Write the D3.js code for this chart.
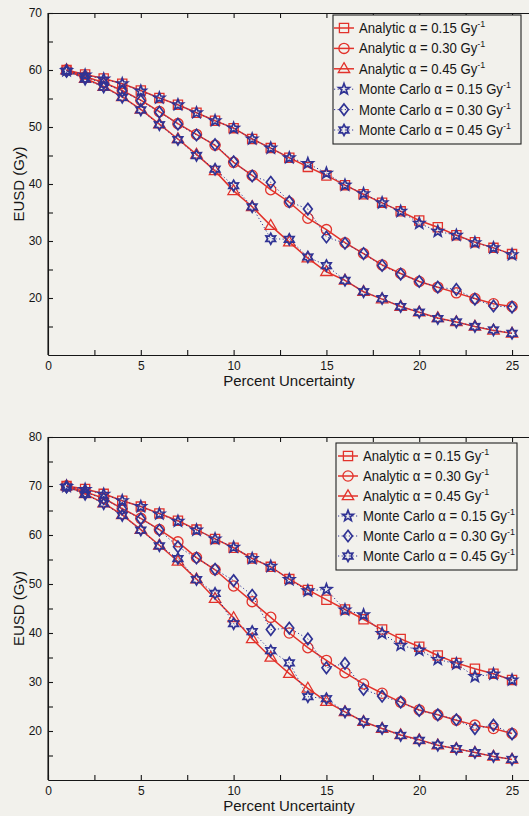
<!DOCTYPE html>
<html lang="en">
<head>
<meta charset="UTF-8">
<title>EUSD vs Percent Uncertainty</title>
<script src="https://d3js.org/d3.v7.min.js"></script>
<style type="text/css">
body{margin:0;background:#f2f1ec;}
svg{display:block;font-family:"Liberation Sans",Arial,sans-serif;}
.axis path,.axis line{fill:none;stroke:#161616;stroke-width:1.1px;}
.axis text{font-size:12px;fill:#161616;}
.axlabel{font-size:15px;fill:#161616;}
.legtext{font-size:14px;fill:#161616;}
</style>
</head>
<body>
<div id="chart"></div>
<script>
// percent uncertainty (x)
var pct = [1,2,3,4,5,6,7,8,9,10,11,12,13,14,15,16,17,18,19,20,21,22,23,24,25];
var xTicks = [0,2.5,5,7.5,10,12.5,15,17.5,20,22.5,25];
var xLabels = [0,5,10,15,20,25];

// upper panel
var topYTicks = [15,20,25,30,35,40,45,50,55,60,65,70];
var topYLabels = [20,30,40,50,60,70];
var topAnalytic015 = [60.0,59.2,58.5,57.6,56.4,55.1,53.9,52.5,51.1,49.8,47.9,46.3,44.6,43.0,41.5,39.8,38.2,36.7,35.2,33.6,32.4,31.0,29.8,28.8,27.7];
var topAnalytic030 = [60.0,58.8,57.8,56.4,54.7,52.7,50.6,48.7,46.8,43.8,41.5,39.0,36.8,34.0,32.0,29.7,27.8,25.8,24.3,22.9,21.9,20.9,19.9,19.0,18.5];
var topAnalytic045 = [60.0,58.5,57.1,55.3,53.1,50.5,47.9,45.2,42.3,38.8,36.0,32.7,29.8,27.0,24.6,23.1,21.1,19.8,18.5,17.5,16.5,15.8,15.0,14.3,13.8];
var topMC015 = [59.9,59.1,58.4,57.6,56.3,55.1,53.9,52.5,51.1,49.8,47.9,46.3,44.6,43.6,41.9,39.8,38.3,36.7,35.2,33.1,31.7,31.0,29.7,28.8,27.6];
var topMC030 = [59.8,58.7,57.7,56.3,54.6,52.6,50.5,48.6,46.9,43.9,41.4,40.3,36.9,35.6,30.7,29.6,27.8,25.7,24.2,22.9,21.9,21.5,19.8,18.6,18.4];
var topMC045 = [59.8,58.4,57.0,55.2,53.0,50.4,47.8,45.0,42.6,39.7,36.0,30.4,30.3,27.2,25.7,23.1,21.1,19.9,18.5,17.5,16.4,15.8,15.0,14.4,13.8];

// lower panel
var botYTicks = [15,20,25,30,35,40,45,50,55,60,65,70,75,80];
var botYLabels = [20,30,40,50,60,70,80];
var botAnalytic015 = [70.0,69.4,68.4,67.0,65.8,64.4,62.9,61.1,59.2,57.4,55.2,53.5,51.0,48.8,46.8,44.8,42.8,40.7,38.8,37.2,35.4,33.9,32.7,31.7,30.4];
var botAnalytic030 = [70.0,68.8,67.5,65.4,63.4,61.1,58.6,55.4,52.9,49.6,46.4,43.2,40.0,37.0,34.4,31.9,29.6,27.7,25.9,24.3,23.3,22.2,21.2,20.5,19.5];
var botAnalytic045 = [70.0,68.4,66.5,64.1,61.1,57.9,54.6,51.0,47.0,43.1,38.8,35.0,31.7,28.7,26.0,23.9,21.9,20.5,19.2,18.2,17.1,16.4,15.6,14.8,14.2];
var botMC015 = [69.9,69.3,68.3,67.0,65.8,64.3,62.8,61.0,59.2,57.5,55.2,53.6,50.9,48.6,48.9,44.7,43.7,39.9,37.5,36.5,34.6,33.7,31.1,31.6,30.4];
var botMC030 = [69.8,68.7,67.4,65.3,63.3,61.0,57.6,55.3,53.0,50.7,47.7,40.7,41.0,38.8,32.9,33.8,28.5,27.1,25.9,24.2,23.3,22.3,20.5,21.2,19.4];
var botMC045 = [69.8,68.3,66.4,64.0,61.0,57.8,55.2,50.9,48.1,41.9,40.3,36.4,33.9,27.0,26.6,23.9,21.9,20.5,19.1,18.1,17.1,16.4,15.6,14.8,14.2];

var topLegend = ["Analytic \u03b1 = 0.15 Gy","Analytic \u03b1 = 0.30 Gy","Analytic \u03b1 = 0.45 Gy",
                 "Monte Carlo \u03b1 = 0.15 Gy","Monte Carlo \u03b1 = 0.30 Gy","Monte Carlo \u03b1 = 0.45  Gy"];
var botLegend = ["Analytic \u03b1 = 0.15 Gy","Analytic \u03b1 = 0.30 Gy","Analytic \u03b1 = 0.45 Gy",
                 "Monte Carlo \u03b1 = 0.15 Gy","Monte Carlo \u03b1 = 0.30 Gy","Monte Carlo \u03b1 = 0.45 Gy"];

var red = "#e2322b", blue = "#303394";
var styles = [
    {marker:"square",    color:red,  dash:null},
    {marker:"circle",    color:red,  dash:null},
    {marker:"triangle",  color:red,  dash:null},
    {marker:"pentagram", color:blue, dash:"1.2,2.4"},
    {marker:"diamond",   color:blue, dash:"1.2,2.4"},
    {marker:"hexagram",  color:blue, dash:"1.2,2.4"}
];

function starPath(n, R, r){
    var p = [];
    for(var k=0;k<2*n;k++){
        var a = -Math.PI/2 + k*Math.PI/n;
        var rr = (k%2==0) ? R : r;
        p.push((rr*Math.cos(a)).toFixed(2)+","+(rr*Math.sin(a)).toFixed(2));
    }
    return "M"+p.join("L")+"Z";
}
function markerPath(type){
    if(type=="square") return "M-4.6,-4.6H4.6V4.6H-4.6Z";
    if(type=="circle") return "M5.1,0A5.1,5.1 0 1,1 -5.1,0A5.1,5.1 0 1,1 5.1,0Z";
    if(type=="triangle") return "M0,-6.1L5.7,3.7L-5.7,3.7Z";
    if(type=="diamond") return "M0,-5.7L4.4,0L0,5.7L-4.4,0Z";
    if(type=="pentagram") return starPath(5,5.7,2.4);
    return starPath(6,5.5,3.1);
}

var width = 529, height = 816;
var svg = d3.select("#chart").append("svg")
    .attr("width",width).attr("height",height);
svg.append("rect").attr("width",width).attr("height",height).attr("fill","#f2f1ec");

var xScale = d3.scaleLinear().domain([0,26]).range([48,530.6]);

var panels = [
    {yDomain:[10,70], yRange:[355,13], yTicks:topYTicks, yLabels:topYLabels,
     series:[topAnalytic015,topAnalytic030,topAnalytic045,topMC015,topMC030,topMC045],
     legend:{x:333,y:15,w:188,h:129,row:20.4,mx:344,tx:359,labels:topLegend}},
    {yDomain:[10,80], yRange:[780,437], yTicks:botYTicks, yLabels:botYLabels,
     series:[botAnalytic015,botAnalytic030,botAnalytic045,botMC015,botMC030,botMC045],
     legend:{x:336,y:443,w:181,h:127,row:20,mx:348,tx:363,labels:botLegend}}
];

panels.forEach(function(p){
    var yScale = d3.scaleLinear().domain(p.yDomain).range(p.yRange);
    var g = svg.append("g");
    var bottomY = p.yRange[0], topY = p.yRange[1];

    // axes (ticks point inward)
    g.append("g").attr("class","axis")
        .attr("transform","translate(0,"+bottomY+")")
        .call(d3.axisBottom(xScale).tickValues(xTicks).tickSize(-5).tickSizeOuter(0).tickPadding(6)
            .tickFormat(function(d){ return xLabels.indexOf(d)>=0 ? d : ""; }));
    g.append("g").attr("class","axis")
        .attr("transform","translate(0,"+topY+")")
        .call(d3.axisTop(xScale).tickValues(xTicks).tickSize(-5).tickSizeOuter(0).tickFormat(""));
    g.append("g").attr("class","axis")
        .attr("transform","translate(48,0)")
        .call(d3.axisLeft(yScale).tickValues(p.yTicks).tickSize(-5).tickSizeOuter(0).tickPadding(6)
            .tickFormat(function(d){ return p.yLabels.indexOf(d)>=0 ? d : ""; }));
    // y axis line down to the bottom of the frame
    g.append("line").attr("x1",48).attr("x2",48).attr("y1",topY).attr("y2",bottomY)
        .attr("stroke","#161616").attr("stroke-width",1.1);

    // axis titles
    g.append("text").attr("class","axlabel")
        .attr("transform","translate(24,"+((topY+bottomY)/2)+") rotate(-90)")
        .attr("text-anchor","middle").text("EUSD (Gy)");
    g.append("text").attr("class","axlabel")
        .attr("x",289).attr("y",bottomY+31)
        .attr("text-anchor","middle").text("Percent Uncertainty");

    var line = d3.line()
        .x(function(d,i){ return xScale(pct[i]); })
        .y(function(d){ return yScale(d); });

    p.series.forEach(function(vals,si){
        var st = styles[si];
        g.append("path").attr("d",line(vals))
            .attr("fill","none").attr("stroke",st.color)
            .attr("stroke-width", st.dash ? 1 : 1.5)
            .attr("stroke-dasharray", st.dash);
        g.selectAll("path.m"+si).data(vals).enter()
            .append("path").attr("class","m"+si)
            .attr("transform",function(d,i){ return "translate("+xScale(pct[i])+","+yScale(d)+")"; })
            .attr("d",markerPath(st.marker))
            .attr("fill","none").attr("stroke",st.color)
            .attr("stroke-width", st.dash ? 1.7 : 1.3);
    });

    // legend
    var L = p.legend;
    g.append("rect").attr("x",L.x).attr("y",L.y).attr("width",L.w).attr("height",L.h)
        .attr("fill","#f2f1ec").attr("stroke","#222").attr("stroke-width",1.1);
    L.labels.forEach(function(lab,i){
        var st = styles[i];
        var cy = L.y + 13 + i*L.row;
        g.append("line").attr("x1",L.mx-10).attr("x2",L.mx+10).attr("y1",cy).attr("y2",cy)
            .attr("stroke",st.color).attr("stroke-width",st.dash ? 1 : 1.5)
            .attr("stroke-dasharray",st.dash);
        g.append("path").attr("transform","translate("+L.mx+","+cy+")")
            .attr("d",markerPath(st.marker)).attr("fill","none")
            .attr("stroke",st.color).attr("stroke-width",st.dash ? 1.7 : 1.3);
        // narrow, tall lettering as in the scan
        var t = g.append("text").attr("class","legtext")
            .attr("transform","translate("+L.tx+","+(cy+5)+") scale(0.94,1)").text(lab);
        t.append("tspan").attr("dy",-6).style("font-size","9.5px").text("-1");
    });
});
</script>
</body>
</html>
